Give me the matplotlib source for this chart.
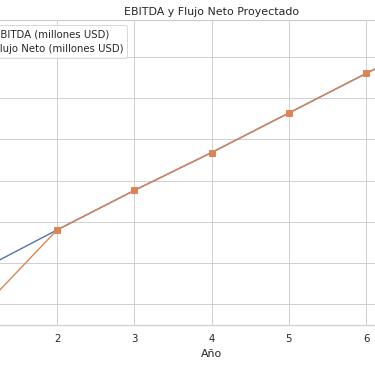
import matplotlib
matplotlib.use("Agg")
import matplotlib.pyplot as plt
import seaborn as sns

sns.set_theme(style="whitegrid")
plt.rcParams['font.family'] = ['DejaVu Sans']

years = [1, 2, 3, 4, 5, 6, 7]
ebitda = [14.1, 19.0, 23.8, 28.4, 33.2, 38.0, 42.8]
flujo_neto = [9.15, 19.0, 23.8, 28.4, 33.2, 38.0, 42.8]

DPI = 66
fig = plt.figure(figsize=(375 / DPI, 366 / DPI), dpi=DPI)
ax = fig.add_axes([-0.116, 0.112, 1.3605, 0.8333])
ax.plot(years, ebitda, marker='o', label='EBITDA (millones USD)')
ax.plot(years, flujo_neto, marker='s', label='Flujo Neto (millones USD)')
ax.set_title('EBITDA y Flujo Neto Proyectado')
ax.set_xlabel('Año', labelpad=5.5)
ax.set_ylabel('Millones USD')
ax.legend(loc='upper left')
fig.savefig('out.png', dpi=DPI)
